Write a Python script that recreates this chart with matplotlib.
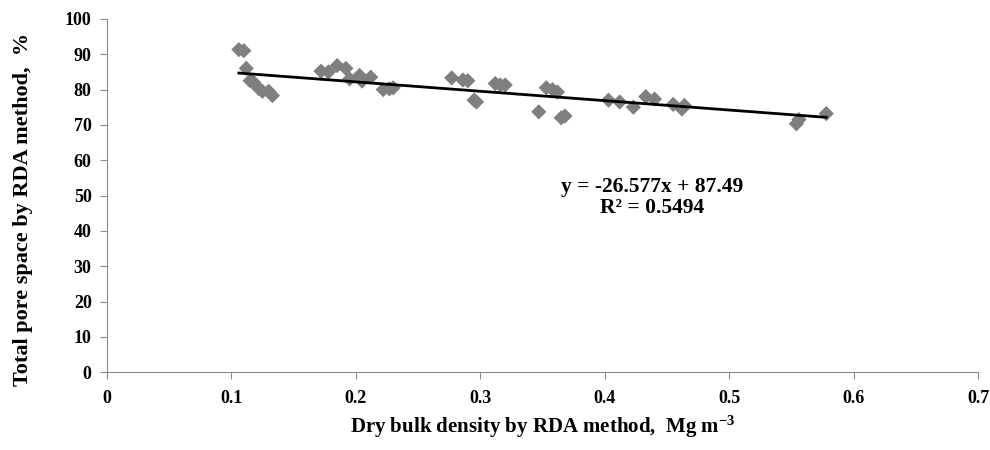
import matplotlib
matplotlib.use("Agg")
import matplotlib.pyplot as plt
import numpy as np

# Data
bulk_density = [0.106, 0.110, 0.112, 0.115, 0.118, 0.122, 0.125, 0.130, 0.133,
                0.172, 0.178, 0.185, 0.192, 0.195, 0.203, 0.205, 0.212,
                0.222, 0.227, 0.230, 0.277, 0.286, 0.290, 0.295, 0.297,
                0.312, 0.316, 0.320, 0.347, 0.353, 0.358, 0.362, 0.365, 0.368,
                0.403, 0.412, 0.423, 0.433, 0.440, 0.455, 0.462, 0.464,
                0.554, 0.556, 0.578]
pore_space = [91.3, 91.0, 86.0, 82.5, 82.0, 80.3, 79.5, 79.5, 78.3,
              85.2, 85.0, 86.8, 86.0, 83.0, 84.0, 82.4, 83.5,
              80.0, 80.2, 80.5, 83.3, 82.7, 82.5, 77.0, 76.5,
              81.7, 81.3, 81.3, 73.7, 80.5, 80.0, 79.3, 72.0, 72.5,
              77.0, 76.5, 75.0, 78.0, 77.3, 75.8, 74.5, 75.5,
              70.3, 71.5, 73.2]

slope = -26.577
intercept = 87.49
r_squared = 0.5494

plt.rcParams['font.family'] = ['Liberation Serif', 'DejaVu Serif']
plt.rcParams['font.weight'] = 'bold'
plt.rcParams['mathtext.fontset'] = 'custom'
plt.rcParams['mathtext.rm'] = 'Liberation Serif:bold'
plt.rcParams['mathtext.default'] = 'rm'

fig = plt.figure(figsize=(9.9, 4.5), dpi=100)
ax = fig.add_axes([0.108, 0.173, 0.880, 0.785])

ax.scatter(bulk_density, pore_space, marker='D', s=60, color='#7f7f7f',
           edgecolors='none', zorder=3)

# linear trendline
x_fit = np.array([min(bulk_density), max(bulk_density)])
ax.plot(x_fit, slope * x_fit + intercept, color='black', lw=2, zorder=4)

ax.text(0.438, 49.5, f"y = {slope}x + {intercept}\nR² = {r_squared}",
        ha='center', va='center', fontsize=15.5, fontweight='bold',
        linespacing=1.05)

ax.set_xlim(0, 0.7)
ax.set_ylim(0, 100)
ax.set_xticks(np.arange(0, 0.71, 0.1))
ax.set_xticklabels(['0', '0.1', '0.2', '0.3', '0.4', '0.5', '0.6', '0.7'])
ax.set_yticks(np.arange(0, 101, 10))

for side in ['top', 'right']:
    ax.spines[side].set_visible(False)
for side in ['left', 'bottom']:
    ax.spines[side].set_color('#8c8c8c')
ax.tick_params(colors='#8c8c8c', labelcolor='black', length=5, labelsize=13,
               direction='out')
ax.tick_params(axis='x', pad=8)
ax.tick_params(axis='y', pad=6)

ax.set_xlabel('Dry bulk density by RDA method,  Mg m$^{-3}$',
              fontsize=15, fontweight='bold', labelpad=5)
ax.set_ylabel('Total pore space by RDA method,  %', fontsize=16,
              fontweight='bold')
ax.yaxis.set_label_coords(-0.085, 0.46)

fig.savefig('out.png', dpi=100)
